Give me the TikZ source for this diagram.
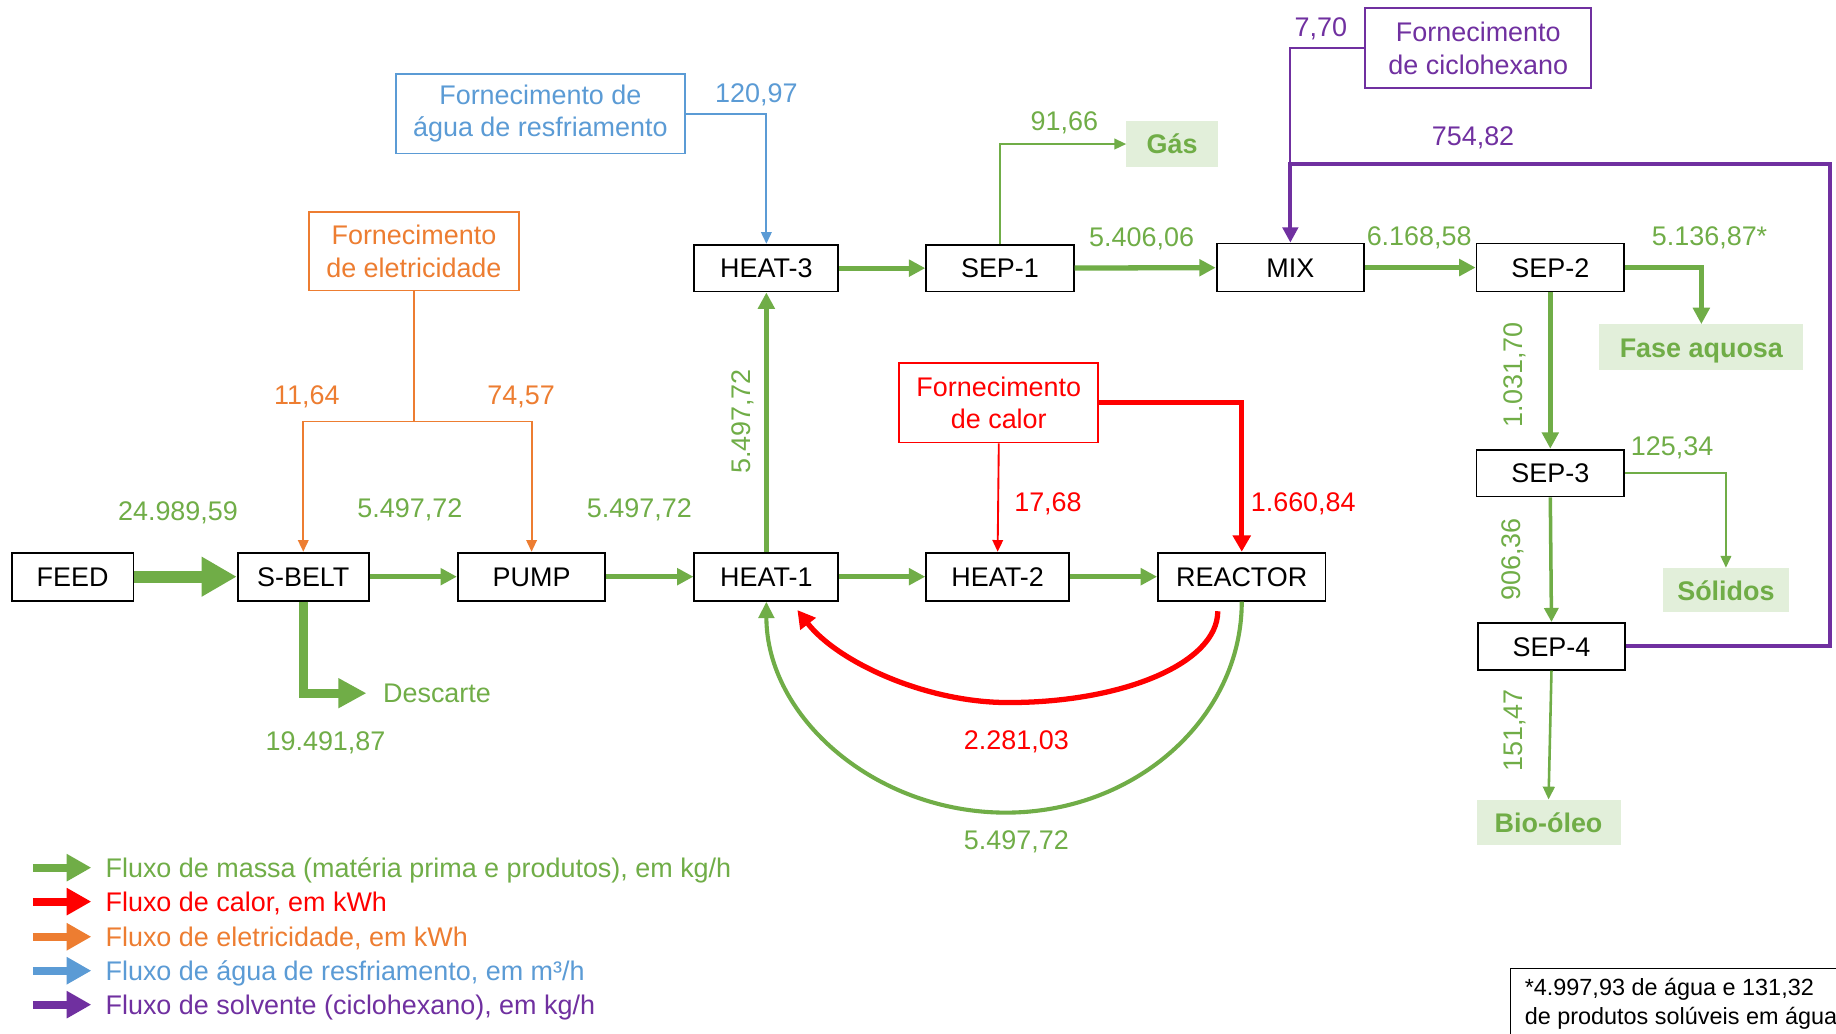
\documentclass[tikz,border=0pt]{standalone}
\usepackage{fontspec}
\setmainfont{Liberation Sans}
\usetikzlibrary{arrows.meta,calc}
\definecolor{cgreen}{HTML}{70AD47}
\definecolor{cred}{HTML}{FF0000}
\definecolor{corange}{HTML}{ED7D31}
\definecolor{cblue}{HTML}{5B9BD5}
\definecolor{cpurple}{HTML}{7030A0}
\definecolor{lgreen}{HTML}{E2EFDA}
\begin{document}
\begin{tikzpicture}[x=1pt,y=-1pt,
 font=\fontsize{23}{28}\selectfont,
 box/.style={draw=black,line width=1.6pt,fill=white,inner sep=0pt,minimum height=41pt,text height=16.5pt,text depth=0pt},
 sup/.style={draw=#1,text=#1,line width=1.5pt,fill=white,inner sep=0pt,align=center,minimum height=68pt},
 prod/.style={fill=lgreen,text=cgreen,inner sep=0pt,minimum height=39pt,text height=17pt,text depth=0pt,font=\fontsize{23}{28}\selectfont\bfseries},
 lbl/.style={text=#1,inner sep=0pt,text height=16.5pt,text depth=0pt},
 rlbl/.style={text=#1,inner sep=0pt,rotate=90,text height=16.5pt,text depth=0pt},
 flowM/.style={draw=#1,line width=4.5pt,-{Triangle[length=14pt,width=14pt]}},
 flowS/.style={draw=#1,line width=3pt,-{Triangle[length=12pt,width=12pt]}},
 flowT/.style={draw=#1,line width=1.6pt,-{Triangle[length=10pt,width=9pt]}},
 leg/.style={draw=#1,line width=7pt,-{Triangle[length=21pt,width=22pt]}}
]
\useasboundingbox (0,0) rectangle (1568,883);
\fill[white] (0,0) rectangle (1568,883);

% process boxes
\node[box,minimum width=104pt] (feed)    at (62,492.5)   {FEED};
\node[box,minimum width=112pt] (sbelt)   at (259,492.5)  {S-BELT};
\node[box,minimum width=126pt] (pump)    at (454,492.5)  {PUMP};
\node[box,minimum width=123pt] (heat1)   at (654.5,492.5) {HEAT-1};
\node[box,minimum width=122pt] (heat2)   at (852,492.5)  {HEAT-2};
\node[box,minimum width=143pt] (reactor) at (1060.5,492.5) {REACTOR};
\node[box,minimum width=123pt,minimum height=40pt] (heat3) at (654.5,229) {HEAT-3};
\node[box,minimum width=126pt,minimum height=40pt] (sep1)  at (854,229)   {SEP-1};
\node[box,minimum width=126pt] (mix)  at (1102,228.5) {MIX};
\node[box,minimum width=126pt] (sep2) at (1324,228.5) {SEP-2};
\node[box,minimum width=126pt,minimum height=40pt] (sep3) at (1324,404) {SEP-3};
\node[box,minimum width=126pt,minimum height=40pt] (sep4) at (1325,552) {SEP-4};

% supply boxes
\node[sup=cblue,minimum width=247pt]   (water) at (461.5,97)  {Fornecimento de\\água de resfriamento};
\node[sup=corange,minimum width=179pt,minimum height=67pt] (elec) at (353.5,214.5) {Fornecimento\\de eletricidade};
\node[sup=cred,minimum width=170pt]    (heat)  at (853,344)   {Fornecimento\\de calor};
\node[sup=cpurple,minimum width=193pt] (cyc)   at (1262.5,41) {Fornecimento\\de ciclohexano};

% product boxes
\node[prod,minimum width=78pt,minimum height=40pt] (gas)  at (1001,123)   {Gás};
\node[prod,minimum width=174pt] (fase) at (1453,296.5) {Fase aquosa};
\node[prod,minimum width=108pt,minimum height=38pt] (sol)  at (1474,504)   {Sólidos};
\node[prod,minimum width=123pt] (bio)  at (1322.5,702.5) {Bio-óleo};

\node[lbl=cgreen,anchor=west,inner xsep=14pt] (desc) at (313,592) {Descarte};

% coordinates
\coordinate (ej) at (353.5,360);
\coordinate (pc) at (1563,140);
\coordinate (pj) at (1102,140);
\coordinate (rc1) at (1040,522);
\coordinate (rc2) at (681,521);

% mass flows
\draw[draw=cgreen,line width=10pt,-{Triangle[length=30pt,width=32pt]}] (feed.east) -- (sbelt.west);
\draw[draw=cgreen,line width=8pt,-{Triangle[length=24pt,width=24pt]}] (sbelt.south) |- (desc.west);
\draw[flowM=cgreen] (sbelt) -- (pump);
\draw[flowM=cgreen] (pump) -- (heat1);
\draw[flowM=cgreen] (heat1) -- (heat2);
\draw[flowM=cgreen] (heat2) -- (reactor);
\draw[flowM=cgreen] (heat1.north) -- (heat3.south);
\draw[flowM=cgreen] (heat3) -- (sep1);
\draw[flowM=cgreen] (sep1) -- (mix);
\draw[flowM=cgreen] (mix) -- (sep2);
\draw[flowT=cgreen] (sep1.north) |- (gas.west);
\draw[flowM=cgreen] (sep2.east) -| (fase.north);
\draw[flowM=cgreen] (sep2.south) -- (sep3.north);
\draw[flowT=cgreen] (sep3.east) -| (sol.north);
\draw[flowS=cgreen] (sep3.south) -- (sep4.north);
\draw[draw=cgreen,line width=2.2pt,-{Triangle[length=11pt,width=10pt]}] (sep4.south) -- (bio.north);
\draw[draw=cgreen,line width=3.5pt,-{Triangle[length=14pt,width=13pt]}]
  (reactor.south) .. controls (1060.5,613) and (970,694) .. (859,694)
  .. controls (748,694) and (654.5,613) .. (heat1.south);

% heat flows
\draw[flowT=cred] (heat.south) -- (heat2.north);
\draw[draw=cred,line width=4.5pt,-{Triangle[length=14pt,width=15pt]}] (heat.east) -| (reactor.north);
\draw[draw=cred,line width=4.5pt,-{Triangle[length=15pt,width=16pt]}]
  (rc1) .. controls (1040,566) and (960,600) .. (861,600)
  .. controls (790,600) and (715,565) .. (rc2);

% electricity
\draw[draw=corange,line width=1.6pt] (elec.south) -- (ej);
\draw[flowT=corange] (ej) -| (sbelt.north);
\draw[flowT=corange] (ej) -| (pump.north);

% cooling water
\draw[flowT=cblue] (water.east) -| (heat3.north);

% solvent
\draw[draw=cpurple,line width=3.5pt,-{Triangle[length=13pt,width=13pt]}] (sep4.east) -| (pc) -| (mix.north);
\draw[draw=cpurple,line width=1.6pt] (cyc.west) -| (pj);

% labels
\node[lbl=cgreen] at (152,436) {24.989,59};
\node[lbl=cgreen] at (350,434) {5.497,72};
\node[lbl=cgreen] at (546,434) {5.497,72};
\node[rlbl=cgreen] at (633,360) {5.497,72};
\node[lbl=cgreen] at (278,633) {19.491,87};
\node[lbl=corange] at (262,337) {11,64};
\node[lbl=corange] at (445,337) {74,57};
\node[lbl=cblue] at (646,79) {120,97};
\node[lbl=cgreen] at (909,103) {91,66};
\node[lbl=cgreen] at (975,202) {5.406,06};
\node[lbl=cpurple] at (1128,23) {7,70};
\node[lbl=cpurple] at (1258,116) {754,82};
\node[lbl=cgreen] at (1212,201) {6.168,58};
\node[lbl=cgreen] at (1460,201) {5.136,87*};
\node[rlbl=cgreen] at (1292,320) {1.031,70};
\node[lbl=cgreen] at (1428,381) {125,34};
\node[rlbl=cgreen] at (1290,478) {906,36};
\node[rlbl=cgreen] at (1292,624) {151,47};
\node[lbl=cred] at (895,429) {17,68};
\node[lbl=cred] at (1113,429) {1.660,84};
\node[lbl=cred] at (868,632) {2.281,03};
\node[lbl=cgreen] at (868,717) {5.497,72};

% legend
\node[lbl=cgreen,anchor=west] (lg1) at (90,741) {Fluxo de massa (matéria prima e produtos), em kg/h};
\node[lbl=cred,anchor=west] (lg2) at (90,770) {Fluxo de calor, em kWh};
\node[lbl=corange,anchor=west] (lg3) at (90,800) {Fluxo de eletricidade, em kWh};
\node[lbl=cblue,anchor=west] (lg4) at (90,829) {Fluxo de água de resfriamento, em m³/h};
\node[lbl=cpurple,anchor=west] (lg5) at (90,858) {Fluxo de solvente (ciclohexano), em kg/h};
\draw[leg=cgreen]  ($(lg1.west)+(-62,0)$) -- ($(lg1.west)+(-12,0)$);
\draw[leg=cred]    ($(lg2.west)+(-62,0)$) -- ($(lg2.west)+(-12,0)$);
\draw[leg=corange] ($(lg3.west)+(-62,0)$) -- ($(lg3.west)+(-12,0)$);
\draw[leg=cblue]   ($(lg4.west)+(-62,0)$) -- ($(lg4.west)+(-12,0)$);
\draw[leg=cpurple] ($(lg5.west)+(-62,0)$) -- ($(lg5.west)+(-12,0)$);

% footnote
\draw[line width=1.2pt] (1290,883) -- (1290,827) -- (1568,827);
\node[anchor=north west,align=left,inner sep=0pt,font=\fontsize{20}{25}\selectfont] (fn) at (1302,835)
  {*4.997,93 de água e 131,32\\de produtos solúveis em água};
\end{tikzpicture}
\end{document}
